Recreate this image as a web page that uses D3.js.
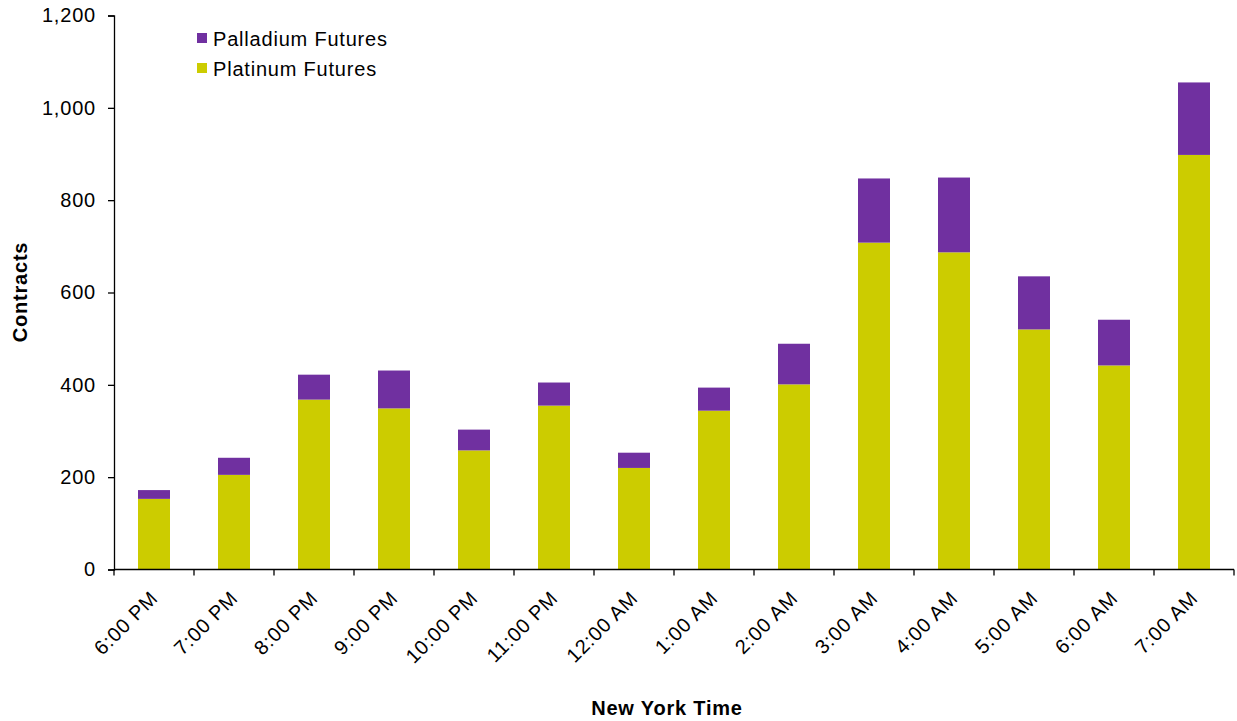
<!DOCTYPE html>
<html><head><meta charset="utf-8">
<script src="https://cdn.jsdelivr.net/npm/d3@7"></script>
<style>body{margin:0;background:#fff;} text{font-family:"Liberation Sans",Arial,sans-serif;letter-spacing:0.8px;}</style>
</head><body><svg id="c" width="1237" height="721"></svg>
<script>
const categories = ["6:00 PM","7:00 PM","8:00 PM","9:00 PM","10:00 PM","11:00 PM","12:00 AM","1:00 AM","2:00 AM","3:00 AM","4:00 AM","5:00 AM","6:00 AM","7:00 AM"];
const platinum = [153, 205, 368, 349, 258, 355, 220, 344, 401, 708, 687, 520, 442, 898];
const palladium = [19, 37, 54, 82, 45, 50, 33, 50, 88, 139, 162, 115, 99, 157];
const yTicks = [0, 200, 400, 600, 800, 1000, 1200];
const seriesNames = ["Platinum Futures", "Palladium Futures"];
const colors = {"Platinum Futures": "#CCCC00", "Palladium Futures": "#7030A0"};

const svg = d3.select("#c");
const y = d3.scaleLinear().domain([0, 1200]).range([569.5, 15.5]);
const xb = d3.scaleBand().domain(categories).range([114, 1234]);

const data = categories.map((c, i) => ({cat: c, "Platinum Futures": platinum[i], "Palladium Futures": palladium[i]}));
const stack = d3.stack().keys(seriesNames)(data);

svg.append("g").selectAll("g").data(stack).join("g")
  .attr("fill", d => colors[d.key])
  .selectAll("rect").data(d => d).join("rect")
  .attr("x", d => xb(d.data.cat) + xb.bandwidth()*0.3)
  .attr("width", xb.bandwidth()*0.4)
  .attr("y", d => y(d[1]))
  .attr("height", d => y(d[0]) - y(d[1]));

// Y axis
const ya = svg.append("g").attr("transform", "translate(114,0)")
  .call(d3.axisLeft(y).tickValues(yTicks).tickSize(6).tickPadding(12).tickFormat(d3.format(",")));
ya.select(".domain").attr("stroke", "#000").attr("stroke-width", 1.3);
ya.selectAll(".tick line").attr("stroke", "#000").attr("stroke-width", 1.3);
ya.selectAll("text").attr("font-size", 20).attr("fill", "#000").style("font-family", "Liberation Sans, Arial");

// X axis
const xa = svg.append("g").attr("transform", "translate(0,569.5)");
xa.append("line").attr("x1", 114).attr("x2", 1234).attr("stroke", "#000").attr("stroke-width", 1.3);
const tickPos = categories.map(c => xb(c)).concat([1234]);
xa.selectAll("line.t").data(tickPos).join("line").attr("class", "t")
  .attr("x1", d => d).attr("x2", d => d).attr("y1", 0).attr("y2", 6)
  .attr("stroke", "#000").attr("stroke-width", 1.3);
xa.selectAll("text").data(categories).join("text")
  .attr("transform", d => `translate(${xb(d) + xb.bandwidth()/2 + 5},${30}) rotate(-45)`)
  .attr("text-anchor", "end").attr("font-size", 20).attr("fill", "#000")
  .text(d => d);

// Axis titles
svg.append("text").attr("transform", "translate(27,292) rotate(-90)")
  .attr("text-anchor", "middle").attr("font-size", 20).attr("font-weight", "bold").text("Contracts");
svg.append("text").attr("x", 667).attr("y", 715)
  .attr("text-anchor", "middle").attr("font-size", 20).attr("font-weight", "bold").text("New York Time");

// Legend
const legendItems = ["Palladium Futures", "Platinum Futures"];
const lg = svg.append("g");
legendItems.forEach((k, i) => {
  lg.append("rect").attr("x", 197).attr("y", 33 + i*30).attr("width", 10).attr("height", 10).attr("fill", colors[k]);
  lg.append("text").attr("x", 213).attr("y", 45.5 + i*30).attr("font-size", 20).attr("fill", "#000").text(k);
});
</script></body></html>
